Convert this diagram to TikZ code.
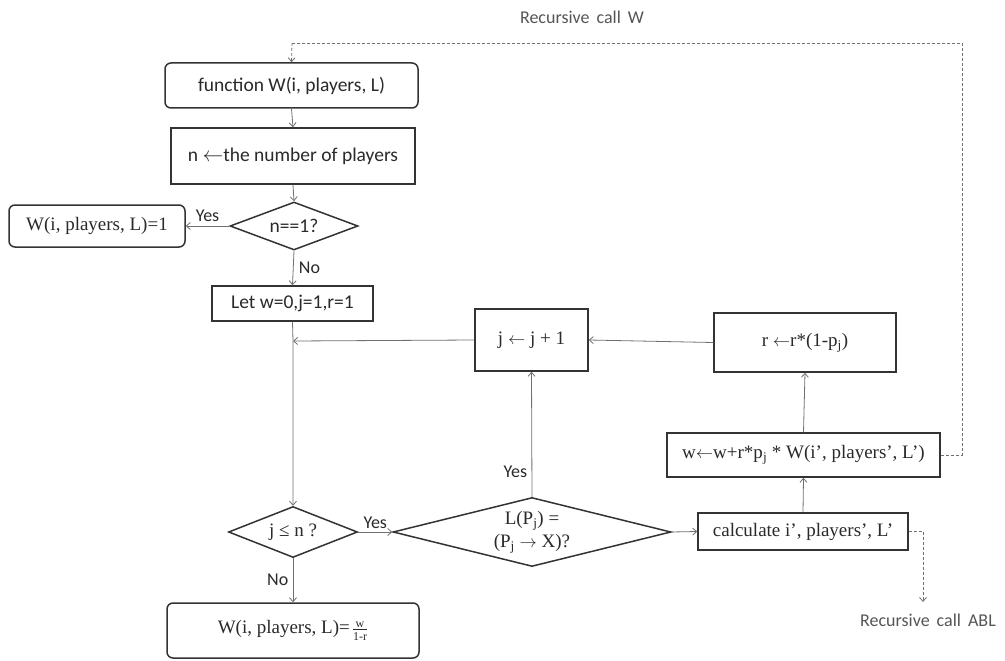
\documentclass[tikz,border=0pt]{standalone}
\usepackage{fontspec}
\setmainfont{Liberation Serif}
\newfontfamily\sansfont{Carlito}
\usetikzlibrary{shapes.geometric,arrows.meta}
\definecolor{boxline}{HTML}{333333}
\definecolor{wire}{HTML}{707070}
\definecolor{ink}{HTML}{2A2A2A}
\definecolor{note}{HTML}{555555}
\newcommand{\smallfrac}[2]{$\frac{\rule[-2pt]{0pt}{2pt}\mbox{\fontsize{12}{13}\selectfont #1}}{\rule{0pt}{10pt}\mbox{\fontsize{12}{13}\selectfont #2}}$}
\begin{document}
\begin{tikzpicture}[x=1pt,y=-1pt,
  every node/.style={text=ink},
  proc/.style={draw=boxline,line width=1.5pt,fill=white,inner sep=0pt,
    minimum width=#1},
  term/.style={proc=#1,rounded corners=6pt},
  decision/.style={diamond,draw=boxline,line width=1.5pt,fill=white,inner sep=0pt,
    align=center},
  flow/.style={draw=wire,line width=0.8pt,-{Straight Barb[length=4pt,width=7pt]}},
  recur/.style={draw=wire,line width=0.8pt,dash pattern=on 3pt off 2pt},
  lbl/.style={font=\sansfont\fontsize{18}{20}\selectfont,text=ink},
  sans/.style={font=\sansfont\fontsize{19.5}{22}\selectfont},
  serif/.style={font=\fontsize{19}{22}\selectfont},
]
\useasboundingbox (0,0) rectangle (1005,661);

% main column
\node[term=253pt,minimum height=45pt,sans] (fn) at (291.5,85.5) {function W(i, players, L)};
\node[proc=244pt,minimum height=56pt,sans] (cnt) at (293,156) {n $\leftarrow$the number of players};
\node[decision,minimum width=128pt,minimum height=48pt,aspect=2.67,sans] (one) at (294,226) {n==1?};
\node[term=176pt,minimum height=42pt,serif] (base) at (97,226) {W(i, players, L)=1};
\node[proc=161pt,minimum height=35pt,sans] (init) at (292.5,303.5) {Let w=0,j=1,r=1};
\coordinate (join) at (293,341);
\node[decision,minimum width=129pt,minimum height=51pt,aspect=2.5,serif] (loop) at (293,532) {j ≤ n ?};
\node[term=252pt,minimum height=55pt,serif] (result) at (293,630.5)
  {W(i, players, L)=\hspace{2pt}\smallfrac{w}{1-r}};

% loop body
\node[decision,minimum width=278pt,minimum height=69pt,aspect=4,serif,
  font=\fontsize{19}{23}\selectfont] (test) at (532,532)
  {L(P\textsubscript{j}) =\\(P\textsubscript{j} $\rightarrow$ X)?};
\node[proc=113pt,minimum height=62pt,serif] (inc) at (531.5,340) {j $\leftarrow$ j + 1};
\node[proc=182pt,minimum height=59pt,serif] (upd) at (805,342.5) {r $\leftarrow$r*(1-p\textsubscript{j})};
\node[proc=273pt,minimum height=44pt,serif] (acc) at (803.5,455) {w$\leftarrow$w+r*p\textsubscript{j} * W(i’, players’, L’)};
\node[proc=210pt,minimum height=37pt,serif] (calc) at (803,531.5) {calculate i’, players’, L’};

% recursion notes
\coordinate (wr) at (962,455);
\coordinate (wt) at (962,43);
\coordinate (wl) at (292,43);
\coordinate (ar) at (923,531.5);
\coordinate (ad) at (923,602);
\node[lbl,text=note] (recW) at (582,17) {Recursive\hspace{7pt}call\hspace{7pt}W};
\node[lbl,text=note] (recA) at (928,620) {Recursive\hspace{7pt}call\hspace{7pt}ABL};

% connectors
\draw[flow] (fn.south) -- (cnt.north);
\draw[flow] (cnt.south) -- (one.north);
\draw[flow] (one.west) -- node[lbl,above=1pt] {Yes} (base.east);
\draw[flow] (one.south) -- node[lbl,right=2pt] {No} (init.north);
\draw[flow] (init.south) -- (join) -- (loop.north);
\draw[flow] (inc.west) -- (join);
\draw[flow] (upd.west) -- (inc.east);
\draw[flow] (acc.north) -- (upd.south);
\draw[flow] (calc.north) -- (acc.south);
\draw[flow] (loop.east) -- node[lbl,above=0pt] {Yes} (test.west);
\draw[flow] (test.east) -- (calc.west);
\draw[flow] (test.north) -- node[lbl,left=1pt,pos=0.2] {Yes} (inc.south);
\draw[flow] (loop.south) -- node[lbl,left=1pt] {No} (result.north);
\draw[recur] (acc.east) -- (wr) -- (wt) -- (wl);
\draw[recur,-{Straight Barb[length=4pt,width=7pt]}] (wl) -- (fn.north);
\draw[recur] (calc.east) -- (ar);
\draw[recur,-{Straight Barb[length=4pt,width=7pt]}] (ar) -- (ad);
\end{tikzpicture}
\end{document}
